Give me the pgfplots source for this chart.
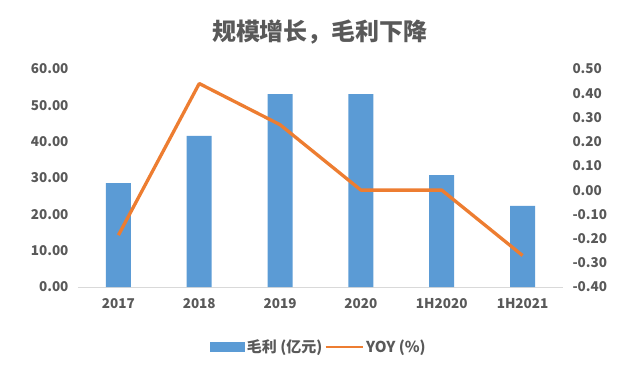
\documentclass[border=0pt]{standalone}
\usepackage{pgfplots}
\pgfplotsset{compat=1.18}
\usetikzlibrary{calc}
\usepackage{fontspec}
\setmainfont{Noto Sans CJK SC}
\definecolor{barblue}{HTML}{5B9BD5}
\definecolor{lineor}{HTML}{ED7D31}
\definecolor{txt}{HTML}{595959}
\definecolor{axgray}{HTML}{D9D9D9}
\begin{document}
\begin{tikzpicture}
\begin{axis}[name=ax, scale only axis, width=485pt, height=218pt,
  xmin=-0.5, xmax=5.5, ymin=0, ymax=60,
  ytick={0,10,20,30,40,50,60},
  xtick={0,1,2,3,4,5}, xticklabels={2017,2018,2019,2020,1H2020,1H2021},
  axis x line*=bottom, axis y line*=left,
  axis line style={-},
  x axis line style={draw=axgray, line width=1pt},
  y axis line style={draw=none},
  major tick length=0pt,
  tick label style={font=\bfseries\fontsize{13.5}{16}\selectfont, text=txt},
  /pgf/number format/assume math mode=true,
  yticklabel style={/pgf/number format/.cd, fixed, fixed zerofill, precision=2},
  yticklabel shift=6pt, xticklabel shift=8pt,
  clip=false]
\addplot[ybar, bar width=25pt, fill=barblue, draw=none] coordinates {(0,28.6) (1,41.6) (2,53.1) (3,53.1) (4,30.8) (5,22.3)};
\end{axis}
\begin{axis}[at={(ax.south west)}, anchor=south west, scale only axis, width=485pt, height=218pt,
  xmin=-0.5, xmax=5.5, ymin=-0.4, ymax=0.5,
  ytick={-0.4,-0.3,-0.2,-0.1,0,0.1,0.2,0.3,0.4,0.5},
  axis x line=none, axis y line*=right,
  axis line style={-},
  y axis line style={draw=none},
  major tick length=0pt,
  tick label style={font=\bfseries\fontsize{13.5}{16}\selectfont, text=txt},
  /pgf/number format/assume math mode=true,
  yticklabel style={/pgf/number format/.cd, fixed, fixed zerofill, precision=2},
  yticklabel shift=6pt,
  clip=false,
  legend columns=2,
  legend style={at={(axis description cs:0.497,-0.275)}, anchor=center, draw=none, fill=none,
    font=\bfseries\fontsize{15}{18}\selectfont, text=txt,
    /tikz/every even column/.append style={column sep=0pt}},
  ]
\addlegendimage{legend image code/.code={\fill[barblue] (0pt,-4.5pt) rectangle (34pt,4.5pt);}}
\addlegendentry{毛利 (亿元)}
\addplot[lineor, line width=3.3pt, line join=round, legend image code/.code={\draw[lineor, line width=2.8pt] (0pt,0pt) -- (37pt,0pt);}] coordinates {(0,-0.186) (1,0.44) (2,0.27) (3,0.0) (4,0.0) (5,-0.27)};
\addlegendentry{YOY (\%)}
\end{axis}
\node[font=\bfseries\fontsize{24}{28}\selectfont, text=txt] at ($(ax.south west)+(242pt,255pt)$) {规模增长，毛利下降};
\pgfresetboundingbox
\path[use as bounding box] ($(ax.south west)+(-78pt,-78pt)$) rectangle ++(625pt,365pt);
\end{tikzpicture}
\end{document}
